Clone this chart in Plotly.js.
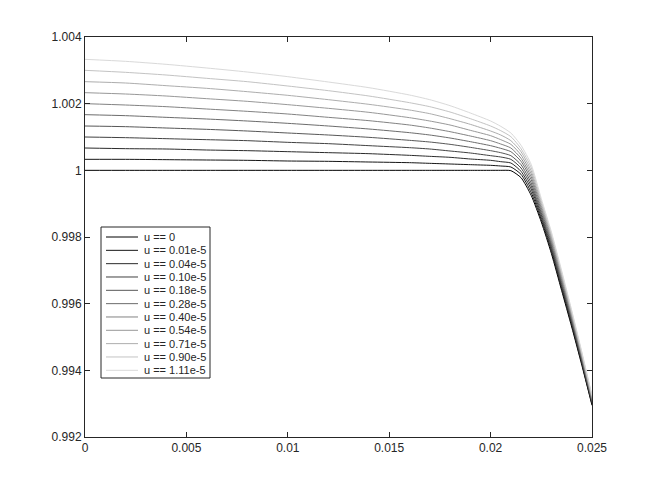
<!DOCTYPE html>
<html>
<head>
<meta charset="utf-8">
<script src="https://cdn.plot.ly/plotly-3.0.1.min.js"></script>
<style>
  html,body{margin:0;padding:0;background:#fff;}
  #plot{width:654px;height:491px;}
</style>
</head>
<body>
<div id="plot"></div>
<script>
// x positions
const xs = [0, 0.002, 0.004, 0.006, 0.008, 0.010, 0.012, 0.014, 0.016, 0.017, 0.018, 0.019,
            0.020, 0.0205, 0.021, 0.0215, 0.022, 0.0225, 0.023, 0.0235, 0.024, 0.0245, 0.025];

const labels = ["u == 0", "u == 0.01e-5", "u == 0.04e-5", "u == 0.10e-5", "u == 0.18e-5",
                "u == 0.28e-5", "u == 0.40e-5", "u == 0.54e-5", "u == 0.71e-5", "u == 0.90e-5", "u == 1.11e-5"];

const u000 = [1,1,1,1,1,1,1,1,1,1,1,1,1,1,0.99999,0.99978,0.99925,0.99845,0.9975,0.9964,0.9953,0.99415,0.99295];
const u001 = [1.00033,1.00033,1.00032,1.00031,1.0003,1.00028,1.00027,1.00025,1.00023,1.00021,1.00019,1.00017,1.00015,1.00013,1.0001,0.99988,0.99934,0.99852,0.99757,0.99646,0.99535,0.99419,0.99298];
const u004 = [1.00067,1.00065,1.00064,1.00061,1.00059,1.00056,1.00053,1.0005,1.00045,1.00042,1.00039,1.00034,1.0003,1.00026,1.00022,0.99997,0.99944,0.99859,0.99763,0.99652,0.9954,0.99423,0.99301];
const u010 = [1.001,1.00098,1.00095,1.00092,1.00089,1.00084,1.0008,1.00074,1.00068,1.00064,1.00058,1.00052,1.00044,1.0004,1.00033,1.00007,0.99953,0.99866,0.9977,0.99658,0.99545,0.99427,0.99304];
const u018 = [1.00133,1.00131,1.00127,1.00123,1.00118,1.00112,1.00106,1.00099,1.0009,1.00085,1.00078,1.00069,1.00059,1.00053,1.00044,1.00017,0.99962,0.99873,0.99776,0.99664,0.9955,0.99431,0.99307];
const u028 = [1.00167,1.00164,1.00159,1.00154,1.00148,1.00141,1.00133,1.00124,1.00113,1.00106,1.00097,1.00086,1.00074,1.00066,1.00056,1.00027,0.99972,0.9988,0.99783,0.9967,0.99555,0.99435,0.9931];
const u040 = [1.002,1.00196,1.00191,1.00184,1.00177,1.00169,1.00159,1.00149,1.00136,1.00127,1.00116,1.00103,1.00089,1.00079,1.00067,1.00036,0.99981,0.99887,0.99789,0.99676,0.9956,0.99439,0.99313];
const u054 = [1.00233,1.00229,1.00223,1.00215,1.00207,1.00197,1.00186,1.00174,1.00158,1.00148,1.00136,1.0012,1.00104,1.00092,1.00078,1.00046,0.9999,0.99894,0.99796,0.99682,0.99565,0.99443,0.99316];
const u071 = [1.00266,1.00262,1.00254,1.00246,1.00236,1.00225,1.00212,1.00198,1.00181,1.0017,1.00155,1.00138,1.00118,1.00106,1.00089,1.00056,0.99999,0.99901,0.99802,0.99688,0.9957,0.99447,0.99319];
const u090 = [1.003,1.00294,1.00286,1.00276,1.00266,1.00253,1.00239,1.00223,1.00203,1.00191,1.00175,1.00155,1.00133,1.00119,1.00101,1.00065,1.00009,0.99908,0.99809,0.99694,0.99575,0.99451,0.99322];
const u111 = [1.00333,1.00327,1.00318,1.00307,1.00295,1.00281,1.00265,1.00248,1.00226,1.00212,1.00194,1.00172,1.00148,1.00132,1.00112,1.00075,1.00018,0.99915,0.99815,0.997,0.9958,0.99455,0.99325];

const ys = [u000,u001,u004,u010,u018,u028,u040,u054,u071,u090,u111];
const grays = [0,22,43,65,87,108,130,152,173,195,217];

(function(){
  const W=654, H=491, L=85, R=592, T=37, B=437;   // plot box in px
  const px = x=>(x-L)/(R-L), py = y=>(B-y)/(B-T);
  const font = "Liberation Sans, Arial, Helvetica, sans-serif";
  const col = g=>"rgb("+g+","+g+","+g+")";

  const traces = ys.map((y,i)=>({
    x:xs, y:y, name:labels[i], mode:"lines", showlegend:false, hoverinfo:"skip",
    line:{color:col(grays[i]), width:1, shape:"spline", smoothing:0.6}
  }));

  // hand-built legend (Plotly's min row height is too tall for this one)
  const lgL=101, lgT=227, lgR=210, lgB=378, row0=237, rowH=13.33;
  const shapes=[{type:"rect",xref:"paper",yref:"paper",x0:px(lgL),x1:px(lgR),y0:py(lgB),y1:py(lgT),
                 line:{color:"#262626",width:1},fillcolor:"#fff",layer:"above"}];
  const annotations=[];
  labels.forEach((lab,i)=>{
    const yy=row0+i*rowH;
    shapes.push({type:"line",xref:"paper",yref:"paper",x0:px(106),x1:px(138),y0:py(yy),y1:py(yy),
                 line:{color:col(grays[i]),width:1},layer:"above"});
    annotations.push({xref:"paper",yref:"paper",x:px(142),y:py(yy),xanchor:"left",yanchor:"middle",
                      text:lab,showarrow:false,font:{family:font,size:11,color:"#262626"}});
  });

  const ax = {showgrid:false, zeroline:false, showline:true, linecolor:"#262626", linewidth:1,
              mirror:"ticks", ticks:"inside", ticklen:5, tickcolor:"#262626",
              tickfont:{family:font,size:12,color:"#262626"}};
  const layout = {
    width:W, height:H, margin:{l:L,r:W-R,t:T,b:H-B}, paper_bgcolor:"#fff", plot_bgcolor:"#fff",
    showlegend:false,
    xaxis:Object.assign({range:[0,0.025],dtick:0.005,tick0:0},ax),
    yaxis:Object.assign({range:[0.992,1.004],dtick:0.002,tick0:0.992},ax),
    shapes:shapes, annotations:annotations
  };
  Plotly.newPlot("plot",traces,layout,{displayModeBar:false,staticPlot:true});
})();
</script>
</body>
</html>
